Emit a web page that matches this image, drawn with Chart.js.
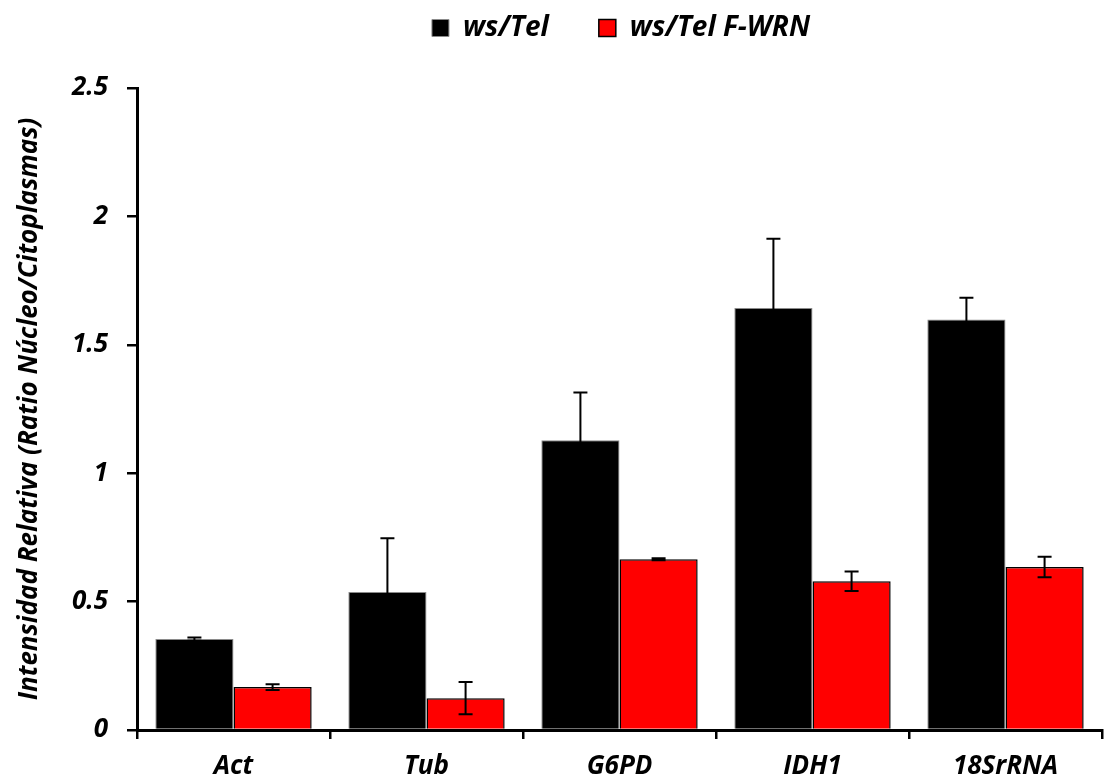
<!DOCTYPE html>
<html>
<head>
<meta charset="utf-8">
<script src="https://cdn.jsdelivr.net/npm/chart.js@4.4.1/dist/chart.umd.min.js"></script>
<style>
  body { margin: 0; background: #fff; }
</style>
</head>
<body>
<canvas id="barChart" width="1110" height="780"></canvas>
<script>
// values
const categories = ["Act", "Tub", "G6PD", "IDH1", "18SrRNA"];
const wsTel = [0.354, 0.537, 1.128, 1.643, 1.599];
const wsTelErr = [0.006, 0.21, 0.186, 0.27, 0.084];
const wsTelFWRN = [0.167, 0.124, 0.665, 0.579, 0.635];
const wsTelFWRNErr = [0.011, 0.063, 0.004, 0.038, 0.04];
const yTicks = [0, 0.5, 1, 1.5, 2, 2.5];

const errors = [wsTelErr, wsTelFWRNErr];
const font = "'Open Sans', sans-serif";

// error bars drawn from the scales
const errorBars = {
  id: "errorBars",
  afterDatasetsDraw(chart) {
    const ctx = chart.ctx;
    const y = chart.scales.y;
    ctx.save();
    ctx.strokeStyle = "#000";
    ctx.lineWidth = 2;
    chart.data.datasets.forEach((ds, i) => {
      chart.getDatasetMeta(i).data.forEach((bar, j) => {
        const v = ds.data[j], e = errors[i][j];
        const top = y.getPixelForValue(v + e);
        const bot = y.getPixelForValue(v - e);
        ctx.beginPath();
        ctx.moveTo(bar.x, top); ctx.lineTo(bar.x, bot);
        ctx.moveTo(bar.x - 7, top); ctx.lineTo(bar.x + 7, top);
        ctx.moveTo(bar.x - 7, bot); ctx.lineTo(bar.x + 7, bot);
        ctx.stroke();
      });
    });
    ctx.restore();
  }
};

// legend sits higher and a bit right of the canvas centre
const legendShift = {
  id: "legendShift",
  afterLayout(chart) {
    const l = chart.legend;
    l.left += 70; l.right += 70;
    l.top -= 36; l.bottom -= 36;
  }
};

new Chart(document.getElementById("barChart"), {
  type: "bar",
  data: {
    labels: categories,
    datasets: [
      { label: "ws/Tel", data: wsTel, backgroundColor: "#000", borderColor: "#8a8a8a", borderWidth: 1 },
      { label: "ws/Tel F-WRN", data: wsTelFWRN, backgroundColor: "#ff0000", borderColor: "#000", borderWidth: 1.5 }
    ]
  },
  options: {
    responsive: false,
    animation: false,
    categoryPercentage: 0.81,
    barPercentage: 1.0,
    layout: { padding: { left: 0, right: 8, top: 0, bottom: 0 } },
    plugins: {
      legend: {
        position: "top",
        labels: {
          color: "#000",
          boxWidth: 17,
          boxHeight: 17,
          padding: 50,
          font: { family: font, size: 28, weight: "bold", style: "italic" }
        }
      },
      tooltip: { enabled: false }
    },
    scales: {
      x: {
        grid: { drawOnChartArea: false, offset: true, color: "#000", lineWidth: 2.5, tickLength: 9 },
        border: { color: "#000", width: 3 },
        ticks: { color: "#000", padding: 12, font: { family: font, size: 26, weight: "bold", style: "italic" } },
        afterFit: s => { s.height = 50; }
      },
      y: {
        min: 0,
        max: 2.5,
        afterBuildTicks: s => { s.ticks = yTicks.map(v => ({ value: v })); },
        grid: { drawOnChartArea: false, color: "#000", lineWidth: 2.5, tickLength: 10 },
        border: { color: "#000", width: 3 },
        ticks: {
          color: "#000",
          padding: 19,
          callback: v => String(v),
          font: { family: font, size: 26, weight: "bold", style: "italic" }
        },
        title: {
          display: true,
          text: "Intensidad Relativa (Ratio Núcleo/Citoplasmas)",
          color: "#000",
          padding: { top: 14, bottom: 0 },
          font: { family: font, size: 26, weight: "bold", style: "italic" }
        },
        afterFit: s => { s.width = 137; }
      }
    }
  },
  plugins: [errorBars, legendShift]
});
</script>
</body>
</html>
